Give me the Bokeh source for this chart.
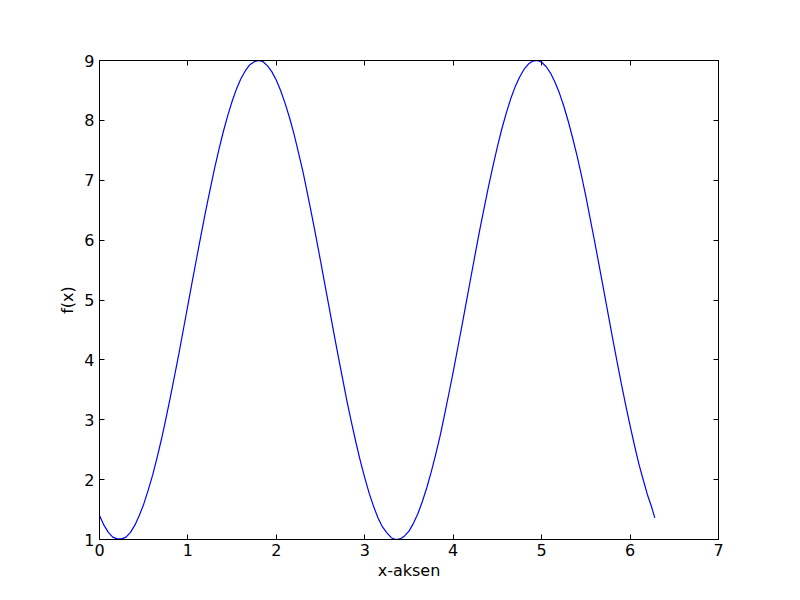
from bokeh.plotting import figure
from bokeh.models import LinearAxis, Range1d, FixedTicker
from bokeh.embed import file_html
from bokeh.resources import INLINE

x_vals = [0.0, 0.05, 0.1, 0.15, 0.2, 0.25, 0.3, 0.35, 0.4, 0.45,
          0.5, 0.55, 0.6, 0.65, 0.7, 0.75, 0.8, 0.85, 0.9, 0.95,
          1.0, 1.05, 1.1, 1.15, 1.2, 1.25, 1.3, 1.35, 1.4, 1.45,
          1.5, 1.55, 1.6, 1.65, 1.7, 1.75, 1.8, 1.85, 1.9, 1.95,
          2.0, 2.05, 2.1, 2.15, 2.2, 2.25, 2.3, 2.35, 2.4, 2.45,
          2.5, 2.55, 2.6, 2.65, 2.7, 2.75, 2.8, 2.85, 2.9, 2.95,
          3.0, 3.05, 3.1, 3.15, 3.2, 3.25, 3.3, 3.35, 3.4, 3.45,
          3.5, 3.55, 3.6, 3.65, 3.7, 3.75, 3.8, 3.85, 3.9, 3.95,
          4.0, 4.05, 4.1, 4.15, 4.2, 4.25, 4.3, 4.35, 4.4, 4.45,
          4.5, 4.55, 4.6, 4.65, 4.7, 4.75, 4.8, 4.85, 4.9, 4.95,
          5.0, 5.05, 5.1, 5.15, 5.2, 5.25, 5.3, 5.35, 5.4, 5.45,
          5.5, 5.55, 5.6, 5.65, 5.7, 5.75, 5.8, 5.85, 5.9, 5.95,
          6.0, 6.05, 6.1, 6.15, 6.2, 6.24, 6.28]
f_vals = [1.40, 1.24, 1.12, 1.04, 1.01, 1.01, 1.04, 1.12, 1.24, 1.40,
          1.59, 1.82, 2.07, 2.36, 2.67, 3.01, 3.37, 3.74, 4.12, 4.52,
          4.92, 5.32, 5.71, 6.10, 6.48, 6.84, 7.19, 7.51, 7.81, 8.08,
          8.32, 8.53, 8.70, 8.83, 8.93, 8.98, 9.00, 8.98, 8.91, 8.81,
          8.67, 8.49, 8.28, 8.04, 7.77, 7.46, 7.15, 6.79, 6.42, 6.04,
          5.65, 5.25, 4.85, 4.45, 4.06, 3.68, 3.30, 2.95, 2.62, 2.31,
          2.03, 1.77, 1.55, 1.36, 1.21, 1.11, 1.03, 1.00, 1.01, 1.06,
          1.14, 1.27, 1.43, 1.63, 1.86, 2.12, 2.41, 2.72, 3.07, 3.43,
          3.80, 4.19, 4.58, 4.98, 5.38, 5.78, 6.17, 6.54, 6.90, 7.24,
          7.56, 7.86, 8.12, 8.36, 8.56, 8.72, 8.85, 8.94, 8.99, 9.00,
          8.97, 8.90, 8.79, 8.64, 8.46, 8.24, 7.99, 7.71, 7.41, 7.08,
          6.73, 6.35, 5.97, 5.58, 5.18, 4.78, 4.38, 3.99, 3.61, 3.25,
          2.90, 2.57, 2.26, 1.99, 1.73, 1.56, 1.36]
x_ticks = [0, 1, 2, 3, 4, 5, 6, 7]
y_ticks = [1, 2, 3, 4, 5, 6, 7, 8, 9]

p = figure(width=792, height=592, output_backend="svg", toolbar_location=None,
           x_range=Range1d(0, 7), y_range=Range1d(1, 9),
           x_axis_label="x-aksen", y_axis_label="f(x)",
           min_border_left=99, min_border_right=74,
           min_border_top=60, min_border_bottom=53)
p.grid.visible = False
p.outline_line_color = "black"
p.outline_line_width = 1
p.background_fill_color = "white"
p.border_fill_color = "white"

p.line(x_vals, f_vals, line_color="#0000ff", line_width=1.2)

font = "DejaVu Sans"
for ax in [p.xaxis[0], p.yaxis[0]]:
    ax.major_tick_in = 5
    ax.major_tick_out = 0
    ax.minor_tick_in = 0
    ax.minor_tick_out = 0
    ax.axis_line_color = "black"
    ax.major_label_text_font = font
    ax.major_label_text_font_size = "16px"
    ax.major_label_text_color = "black"
    ax.axis_label_text_font = font
    ax.axis_label_text_font_size = "16px"
    ax.axis_label_text_font_style = "normal"
    ax.axis_label_text_color = "black"
p.xaxis[0].ticker = FixedTicker(ticks=x_ticks)
p.yaxis[0].ticker = FixedTicker(ticks=y_ticks)
p.xaxis[0].major_label_standoff = 4
p.yaxis[0].major_label_standoff = 5
p.xaxis[0].axis_label_standoff = 2
p.yaxis[0].axis_label_standoff = 4

top = LinearAxis(ticker=FixedTicker(ticks=x_ticks), major_label_text_font_size="0px",
                 major_tick_in=5, major_tick_out=0, minor_tick_in=0, minor_tick_out=0)
right = LinearAxis(ticker=FixedTicker(ticks=y_ticks), major_label_text_font_size="0px",
                   major_tick_in=5, major_tick_out=0, minor_tick_in=0, minor_tick_out=0)
top.major_label_text_alpha = 0
right.major_label_text_alpha = 0
p.add_layout(top, "above")
p.add_layout(right, "right")

open("out.html", "w").write(file_html(p, INLINE))
